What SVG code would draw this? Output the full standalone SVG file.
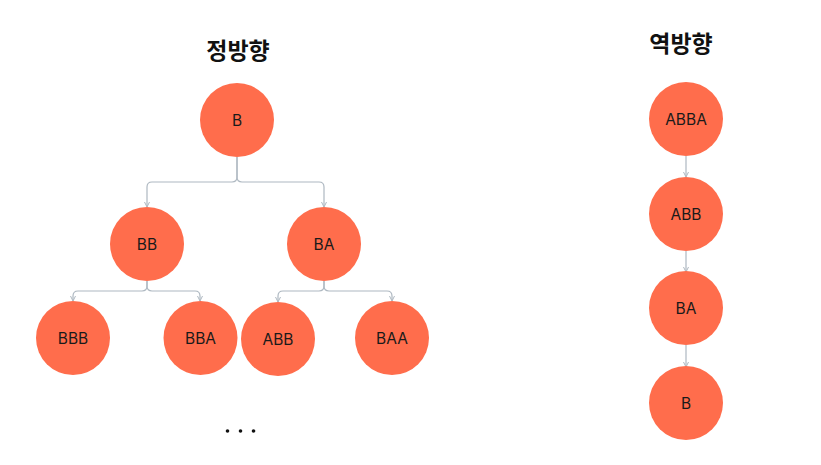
<svg xmlns="http://www.w3.org/2000/svg" width="821" height="465" viewBox="0 0 821 465">
<style>
.n{fill:#FF6D4C}
.t{font-family:Inter,"Noto Sans",sans-serif;font-size:15.5px;fill:#1a1a1a;text-anchor:middle;dominant-baseline:central}
.h{font-family:"Noto Sans CJK KR",sans-serif;font-size:23px;font-weight:700;fill:#111;text-anchor:middle}
.c{fill:none;stroke:#AEB8C1;stroke-width:1.2}
</style>
<defs>
<marker id="a" markerWidth="6" markerHeight="6" refX="5" refY="3" orient="auto" markerUnits="userSpaceOnUse">
<path d="M0,0.5 L5,3 L0,5.5" fill="none" stroke="#AEB8C1" stroke-width="1"/>
</marker>
</defs>
<rect width="821" height="465" fill="#fff"/>
<text class="h" x="238" y="59">정방향</text>
<text class="h" x="681" y="52">역방향</text>
<g id="connectors">
<path class="c" marker-end="url(#a)" d="M237,157 V177 Q237,182 232,182 H152 Q147,182 147,187 V207"/>
<path class="c" marker-end="url(#a)" d="M237,157 V177 Q237,182 242,182 H319 Q324,182 324,187 V207"/>
<path class="c" marker-end="url(#a)" d="M147,281 V286 Q147,291 142,291 H78 Q73,291 73,296 V301"/>
<path class="c" marker-end="url(#a)" d="M147,281 V286 Q147,291 152,291 H195 Q200,291 200,296 V301"/>
<path class="c" marker-end="url(#a)" d="M324,281 V286 Q324,291 319,291 H283 Q278,291 278,296 V302"/>
<path class="c" marker-end="url(#a)" d="M324,281 V286 Q324,291 329,291 H387 Q392,291 392,296 V301"/>
<path class="c" marker-end="url(#a)" d="M686,156 V177"/>
<path class="c" marker-end="url(#a)" d="M686,251 V272"/>
<path class="c" marker-end="url(#a)" d="M686,345 V367"/>
</g>
<g id="f-B"><circle class="n" cx="237" cy="120" r="37"/><text class="t" x="237" y="120">B</text></g>
<g id="f-BB"><circle class="n" cx="147" cy="244" r="37"/><text class="t" x="147" y="244">BB</text></g>
<g id="f-BA"><circle class="n" cx="324" cy="244" r="37"/><text class="t" x="324" y="244">BA</text></g>
<g id="f-BBB"><circle class="n" cx="73" cy="338" r="37"/><text class="t" x="73" y="338">BBB</text></g>
<g id="f-BBA"><circle class="n" cx="200.5" cy="338" r="37"/><text class="t" x="200.5" y="338">BBA</text></g>
<g id="f-ABB"><circle class="n" cx="278" cy="339" r="37"/><text class="t" x="278" y="339">ABB</text></g>
<g id="f-BAA"><circle class="n" cx="392" cy="338" r="37"/><text class="t" x="392" y="338">BAA</text></g>
<g id="dots"><circle cx="227.5" cy="431" r="1.8" fill="#111"/><circle cx="240.5" cy="431" r="1.8" fill="#111"/><circle cx="253.5" cy="431" r="1.8" fill="#111"/></g>
<g id="r-ABBA"><circle class="n" cx="686" cy="119" r="37"/><text class="t" x="686" y="119">ABBA</text></g>
<g id="r-ABB"><circle class="n" cx="686" cy="214" r="37"/><text class="t" x="686" y="214">ABB</text></g>
<g id="r-BA"><circle class="n" cx="686" cy="308" r="37"/><text class="t" x="686" y="308">BA</text></g>
<g id="r-B"><circle class="n" cx="686" cy="403" r="37"/><text class="t" x="686" y="403">B</text></g>
</svg>
